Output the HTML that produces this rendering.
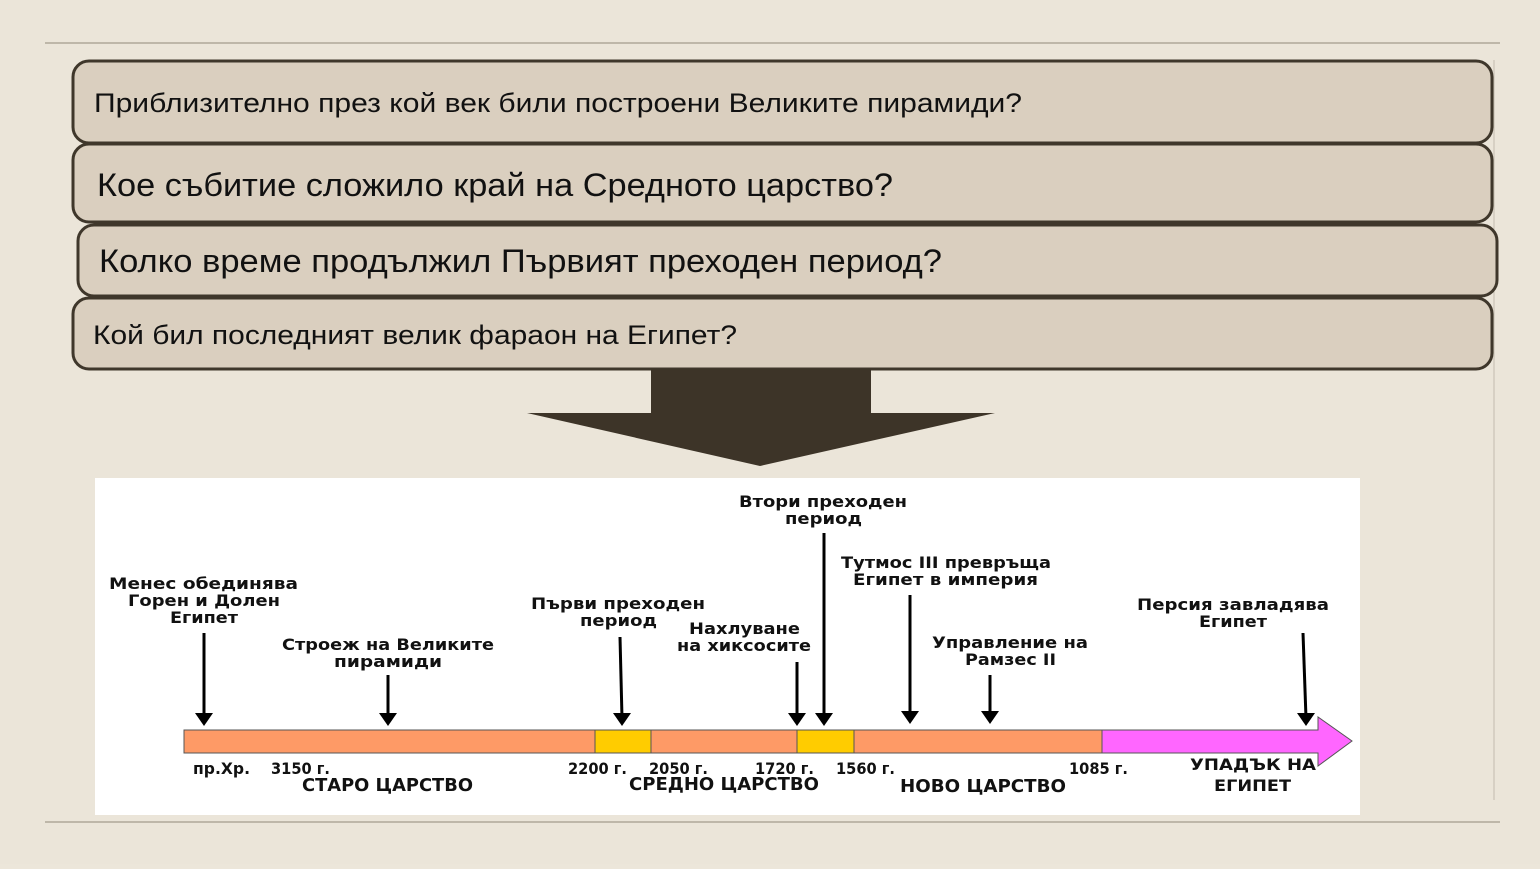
<!DOCTYPE html>
<html><head><meta charset="utf-8"><style>
body{margin:0;width:1540px;height:864px;background:#ece6da;overflow:hidden;font-family:"Liberation Sans",sans-serif}
</style></head><body>
<svg width="1540" height="864" xmlns="http://www.w3.org/2000/svg">
<rect width="1540" height="864" fill="#ebe5d9"/>
<line x1="45" y1="43" x2="1500" y2="43" stroke="#8a8070" stroke-width="1.5" opacity=".6"/>
<line x1="45" y1="822" x2="1500" y2="822" stroke="#8a8070" stroke-width="1.5" opacity=".6"/>
<line x1="1494" y1="60" x2="1494" y2="800" stroke="#8a8070" stroke-width="1" opacity=".4"/>
<g stroke="#3f372b" stroke-width="3" fill="#dacfbf">
<rect x="73" y="61" width="1419" height="82" rx="16"/>
<rect x="73" y="144" width="1419" height="78" rx="16"/>
<rect x="78" y="225" width="1419" height="71" rx="16"/>
<rect x="73" y="298" width="1419" height="71" rx="16"/>
</g>
<g fill="#111" font-family="Liberation Sans, DejaVu Sans, sans-serif" lengthAdjust="spacingAndGlyphs">
<text x="94" y="112" font-size="27" textLength="928" lengthAdjust="spacingAndGlyphs">Приблизително през кой век били построени Великите пирамиди?</text>
<text x="97" y="196" font-size="32" textLength="796" lengthAdjust="spacingAndGlyphs">Кое събитие сложило край на Средното царство?</text>
<text x="99" y="272" font-size="32" textLength="843" lengthAdjust="spacingAndGlyphs">Колко време продължил Първият преходен период?</text>
<text x="93" y="344" font-size="27" textLength="644" lengthAdjust="spacingAndGlyphs">Кой бил последният велик фараон на Египет?</text>
</g>
<rect x="651" y="369" width="220" height="45" fill="#3d3428"/>
<polygon points="527,413 995,413 760,466" fill="#3d3428"/>
<rect x="95" y="478" width="1265" height="337" fill="#fff"/>
<g stroke="#555" stroke-width="1">
<rect x="184" y="730" width="411" height="23" fill="#fe9a66"/>
<rect x="595" y="730" width="56" height="23" fill="#ffcc00"/>
<rect x="651" y="730" width="146" height="23" fill="#fe9a66"/>
<rect x="797" y="730" width="57" height="23" fill="#ffcc00"/>
<rect x="854" y="730" width="248" height="23" fill="#fe9a66"/>
<polygon points="1102,730 1318,730 1318,717 1352,741 1318,766 1318,753 1102,753" fill="#ff66ff"/>
</g>
<g stroke="#000" stroke-width="3">
<line x1="204" y1="633" x2="204" y2="718"/>
<line x1="388" y1="675" x2="388" y2="718"/>
<line x1="620" y1="637" x2="622" y2="718"/>
<line x1="797" y1="662" x2="797" y2="718"/>
<line x1="824" y1="533" x2="824" y2="718"/>
<line x1="910" y1="595" x2="910" y2="716"/>
<line x1="990" y1="675" x2="990" y2="716"/>
<line x1="1303" y1="633" x2="1306" y2="718"/>
</g>
<g fill="#000">
<polygon points="195,713 213,713 204,726"/>
<polygon points="379,713 397,713 388,726"/>
<polygon points="613,713 631,713 622,726"/>
<polygon points="788,713 806,713 797,726"/>
<polygon points="815,713 833,713 824,726"/>
<polygon points="901,711 919,711 910,724"/>
<polygon points="981,711 999,711 990,724"/>
<polygon points="1297,713 1315,713 1306,726"/>
</g>
<g font-family="DejaVu Sans, sans-serif" font-weight="bold" font-size="16" fill="#111">
<text x="109" y="589" textLength="189" lengthAdjust="spacingAndGlyphs">Менес обединява</text>
<text x="128" y="606" textLength="152" lengthAdjust="spacingAndGlyphs">Горен и Долен</text>
<text x="170" y="623" textLength="68" lengthAdjust="spacingAndGlyphs">Египет</text>
<text x="282" y="650" textLength="212" lengthAdjust="spacingAndGlyphs">Строеж на Великите</text>
<text x="334" y="667" textLength="108" lengthAdjust="spacingAndGlyphs">пирамиди</text>
<text x="531" y="609" textLength="174" lengthAdjust="spacingAndGlyphs">Първи преходен</text>
<text x="580" y="626" textLength="77" lengthAdjust="spacingAndGlyphs">период</text>
<text x="689" y="634" textLength="111" lengthAdjust="spacingAndGlyphs">Нахлуване</text>
<text x="677" y="651" textLength="134" lengthAdjust="spacingAndGlyphs">на хиксосите</text>
<text x="739" y="507" textLength="168" lengthAdjust="spacingAndGlyphs">Втори преходен</text>
<text x="785" y="524" textLength="77" lengthAdjust="spacingAndGlyphs">период</text>
<text x="841" y="568" textLength="210" lengthAdjust="spacingAndGlyphs">Тутмос III превръща</text>
<text x="853" y="585" textLength="185" lengthAdjust="spacingAndGlyphs">Египет в империя</text>
<text x="932" y="648" textLength="156" lengthAdjust="spacingAndGlyphs">Управление на</text>
<text x="965" y="665" textLength="91" lengthAdjust="spacingAndGlyphs">Рамзес II</text>
<text x="1137" y="610" textLength="192" lengthAdjust="spacingAndGlyphs">Персия завладява</text>
<text x="1199" y="627" textLength="68" lengthAdjust="spacingAndGlyphs">Египет</text>
<text x="193" y="774" textLength="57" lengthAdjust="spacingAndGlyphs">пр.Хр.</text>
<text x="271" y="774" textLength="59" lengthAdjust="spacingAndGlyphs">3150 г.</text>
<text x="568" y="774" textLength="59" lengthAdjust="spacingAndGlyphs">2200 г.</text>
<text x="649" y="774" textLength="59" lengthAdjust="spacingAndGlyphs">2050 г.</text>
<text x="755" y="774" textLength="59" lengthAdjust="spacingAndGlyphs">1720 г.</text>
<text x="836" y="774" textLength="59" lengthAdjust="spacingAndGlyphs">1560 г.</text>
<text x="1069" y="774" textLength="59" lengthAdjust="spacingAndGlyphs">1085 г.</text>
<text x="1190" y="770" textLength="126" lengthAdjust="spacingAndGlyphs">УПАДЪК НА</text>
<text x="1214" y="791" textLength="77" lengthAdjust="spacingAndGlyphs">ЕГИПЕТ</text>
<g font-size="18">
<text x="302" y="791" textLength="171" lengthAdjust="spacingAndGlyphs">СТАРО ЦАРСТВО</text>
<text x="629" y="790" textLength="190" lengthAdjust="spacingAndGlyphs">СРЕДНО ЦАРСТВО</text>
<text x="900" y="792" textLength="166" lengthAdjust="spacingAndGlyphs">НОВО ЦАРСТВО</text>
</g>
</g>
</svg>
</body></html>
